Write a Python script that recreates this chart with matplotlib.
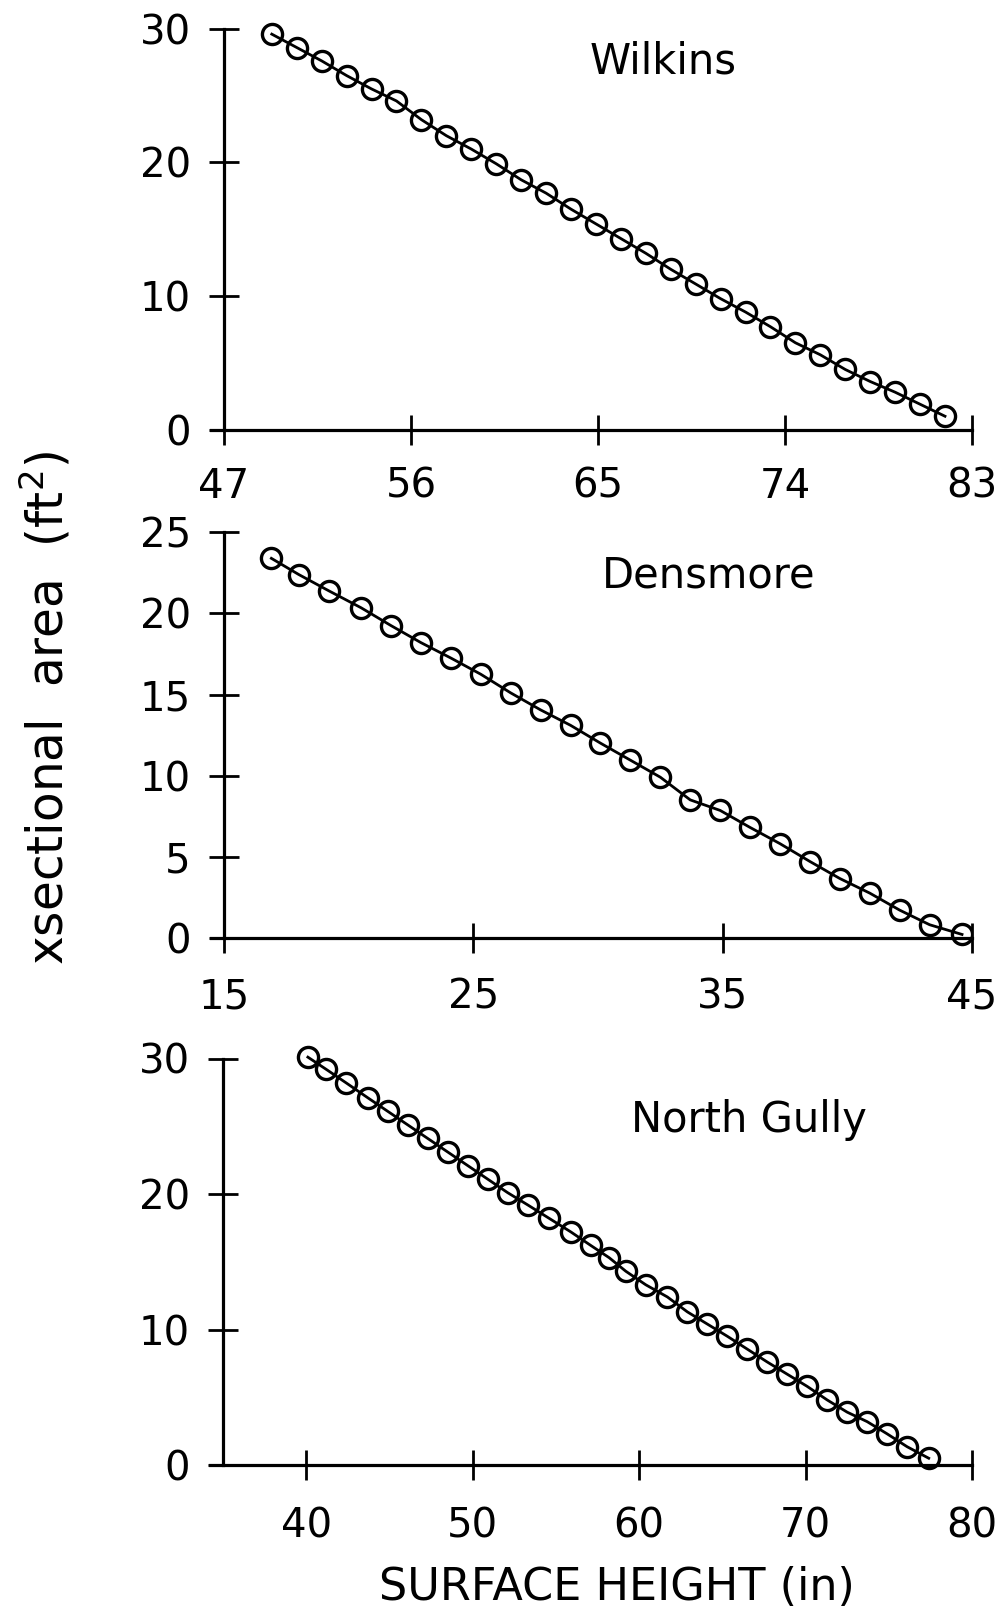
import matplotlib
matplotlib.use("Agg")
import matplotlib.pyplot as plt
from matplotlib.patches import Rectangle

plt.rcParams["font.family"] = ["DejaVu Sans"]
plt.rcParams["mathtext.default"] = "regular"

# ---- data: surface height (in) vs cross-sectional area (ft^2) ----
wilkins_height = [49.3, 50.5, 51.7, 52.9, 54.1, 55.3, 56.5, 57.7, 58.9, 60.1,
                  61.3, 62.5, 63.7, 64.9, 66.1, 67.3, 68.5, 69.7, 70.9, 72.1,
                  73.3, 74.5, 75.7, 76.9, 78.1, 79.3, 80.5, 81.7]
wilkins_area = [29.6, 28.6, 27.6, 26.5, 25.5, 24.6, 23.2, 22.0, 21.0, 19.9,
                18.7, 17.7, 16.5, 15.4, 14.3, 13.2, 12.0, 10.9, 9.8, 8.8,
                7.7, 6.5, 5.6, 4.5, 3.6, 2.8, 1.9, 1.0]

densmore_height = [16.9, 18.0, 19.2, 20.5, 21.7, 22.9, 24.1, 25.3, 26.5, 27.7,
                   28.9, 30.1, 31.3, 32.5, 33.7, 34.9, 36.1, 37.3, 38.5, 39.7,
                   40.9, 42.1, 43.3, 44.6]
densmore_area = [23.4, 22.4, 21.4, 20.35, 19.25, 18.2, 17.25, 16.25, 15.1, 14.05,
                 13.1, 12.0, 10.95, 9.9, 8.5, 7.85, 6.8, 5.8, 4.7, 3.65,
                 2.75, 1.7, 0.8, 0.2]

north_gully_height = [40.1, 41.2, 42.4, 43.7, 44.9, 46.1, 47.3, 48.5, 49.7, 50.9,
                      52.1, 53.3, 54.6, 55.9, 57.1, 58.2, 59.2, 60.4, 61.7, 62.9,
                      64.1, 65.3, 66.5, 67.7, 68.9, 70.1, 71.3, 72.5, 73.7, 74.9,
                      76.1, 77.4]
north_gully_area = [30.1, 29.2, 28.2, 27.1, 26.1, 25.1, 24.1, 23.1, 22.1, 21.1,
                    20.1, 19.2, 18.2, 17.2, 16.2, 15.3, 14.3, 13.3, 12.4, 11.3,
                    10.4, 9.5, 8.55, 7.6, 6.7, 5.8, 4.8, 3.9, 3.2, 2.3,
                    1.35, 0.5]

site_names = ["Wilkins", "Densmore", "North Gully"]
x_ticks = [[47, 56, 65, 74, 83], [15, 25, 35, 45], [40, 50, 60, 70, 80]]
y_ticks = [[0, 10, 20, 30], [0, 5, 10, 15, 20, 25], [0, 10, 20, 30]]
x_origin = [47, 15, 35]

W, H = 1002, 1612
fig = plt.figure(figsize=(W / 100, H / 100), dpi=100)
fig.patch.set_facecolor("white")

# pixel layout of each panel: spine x, right end, top, bottom, x-label pad
layout = [
    dict(x0=224, x1=972, top=28.8, bottom=429.6, xpad=16.0),
    dict(x0=224, x1=972, top=532.4, bottom=937.7, xpad=18.0),
    dict(x0=223, x1=972, top=1058.5, bottom=1465.0, xpad=19.0),
]
title_pos = [(663, 61), (709, 575), (749, 1120)]
overhang = 13  # bottom spine sticks out past the y axis (px)

series = [(wilkins_height, wilkins_area),
          (densmore_height, densmore_area),
          (north_gully_height, north_gully_area)]

for i, (xs, ys) in enumerate(series):
    L = layout[i]
    left = L["x0"] - overhang
    rect = [left / W, 1 - L["bottom"] / H, (L["x1"] - left) / W,
            (L["bottom"] - L["top"]) / H]
    ax = fig.add_axes(rect)
    ax.set_facecolor("none")

    xmin, xmax = x_origin[i], x_ticks[i][-1]
    span = xmax - xmin
    ax.set_xlim(xmin - span * overhang / (L["x1"] - L["x0"]), xmax)
    ax.set_ylim(0, y_ticks[i][-1])

    line, = ax.plot(xs, ys, color="black", lw=2.0, marker="o", ms=14.5,
                    mfc="none", mec="black", mew=2.4)
    line.set_clip_path(Rectangle((0, -0.2), 1, 1.4, transform=ax.transAxes))

    for s in ("top", "right"):
        ax.spines[s].set_visible(False)
    ax.spines["left"].set_position(("data", x_origin[i]))
    for s in ("left", "bottom"):
        ax.spines[s].set_linewidth(2.3)
        ax.spines[s].set_color("black")

    ax.set_xticks(x_ticks[i])
    ax.set_yticks(y_ticks[i])
    ax.tick_params(axis="both", direction="inout", length=21.6, width=2.0,
                   labelsize=29, color="black")
    ax.tick_params(axis="y", pad=13.0)
    ax.tick_params(axis="x", pad=L["xpad"])

    tx, ty = title_pos[i]
    fig.text(tx / W, 1 - ty / H, site_names[i], fontsize=30,
             ha="center", va="center")

fig.text(46 / W, 1 - 708 / H, "xsectional  area  (ft$^{2}$)", fontsize=35,
         rotation=90, ha="center", va="center")
fig.text(617 / W, 1 - 1588 / H, "SURFACE HEIGHT (in)", fontsize=32,
         ha="center", va="center")

fig.savefig("out.png", dpi=100, facecolor="white")
